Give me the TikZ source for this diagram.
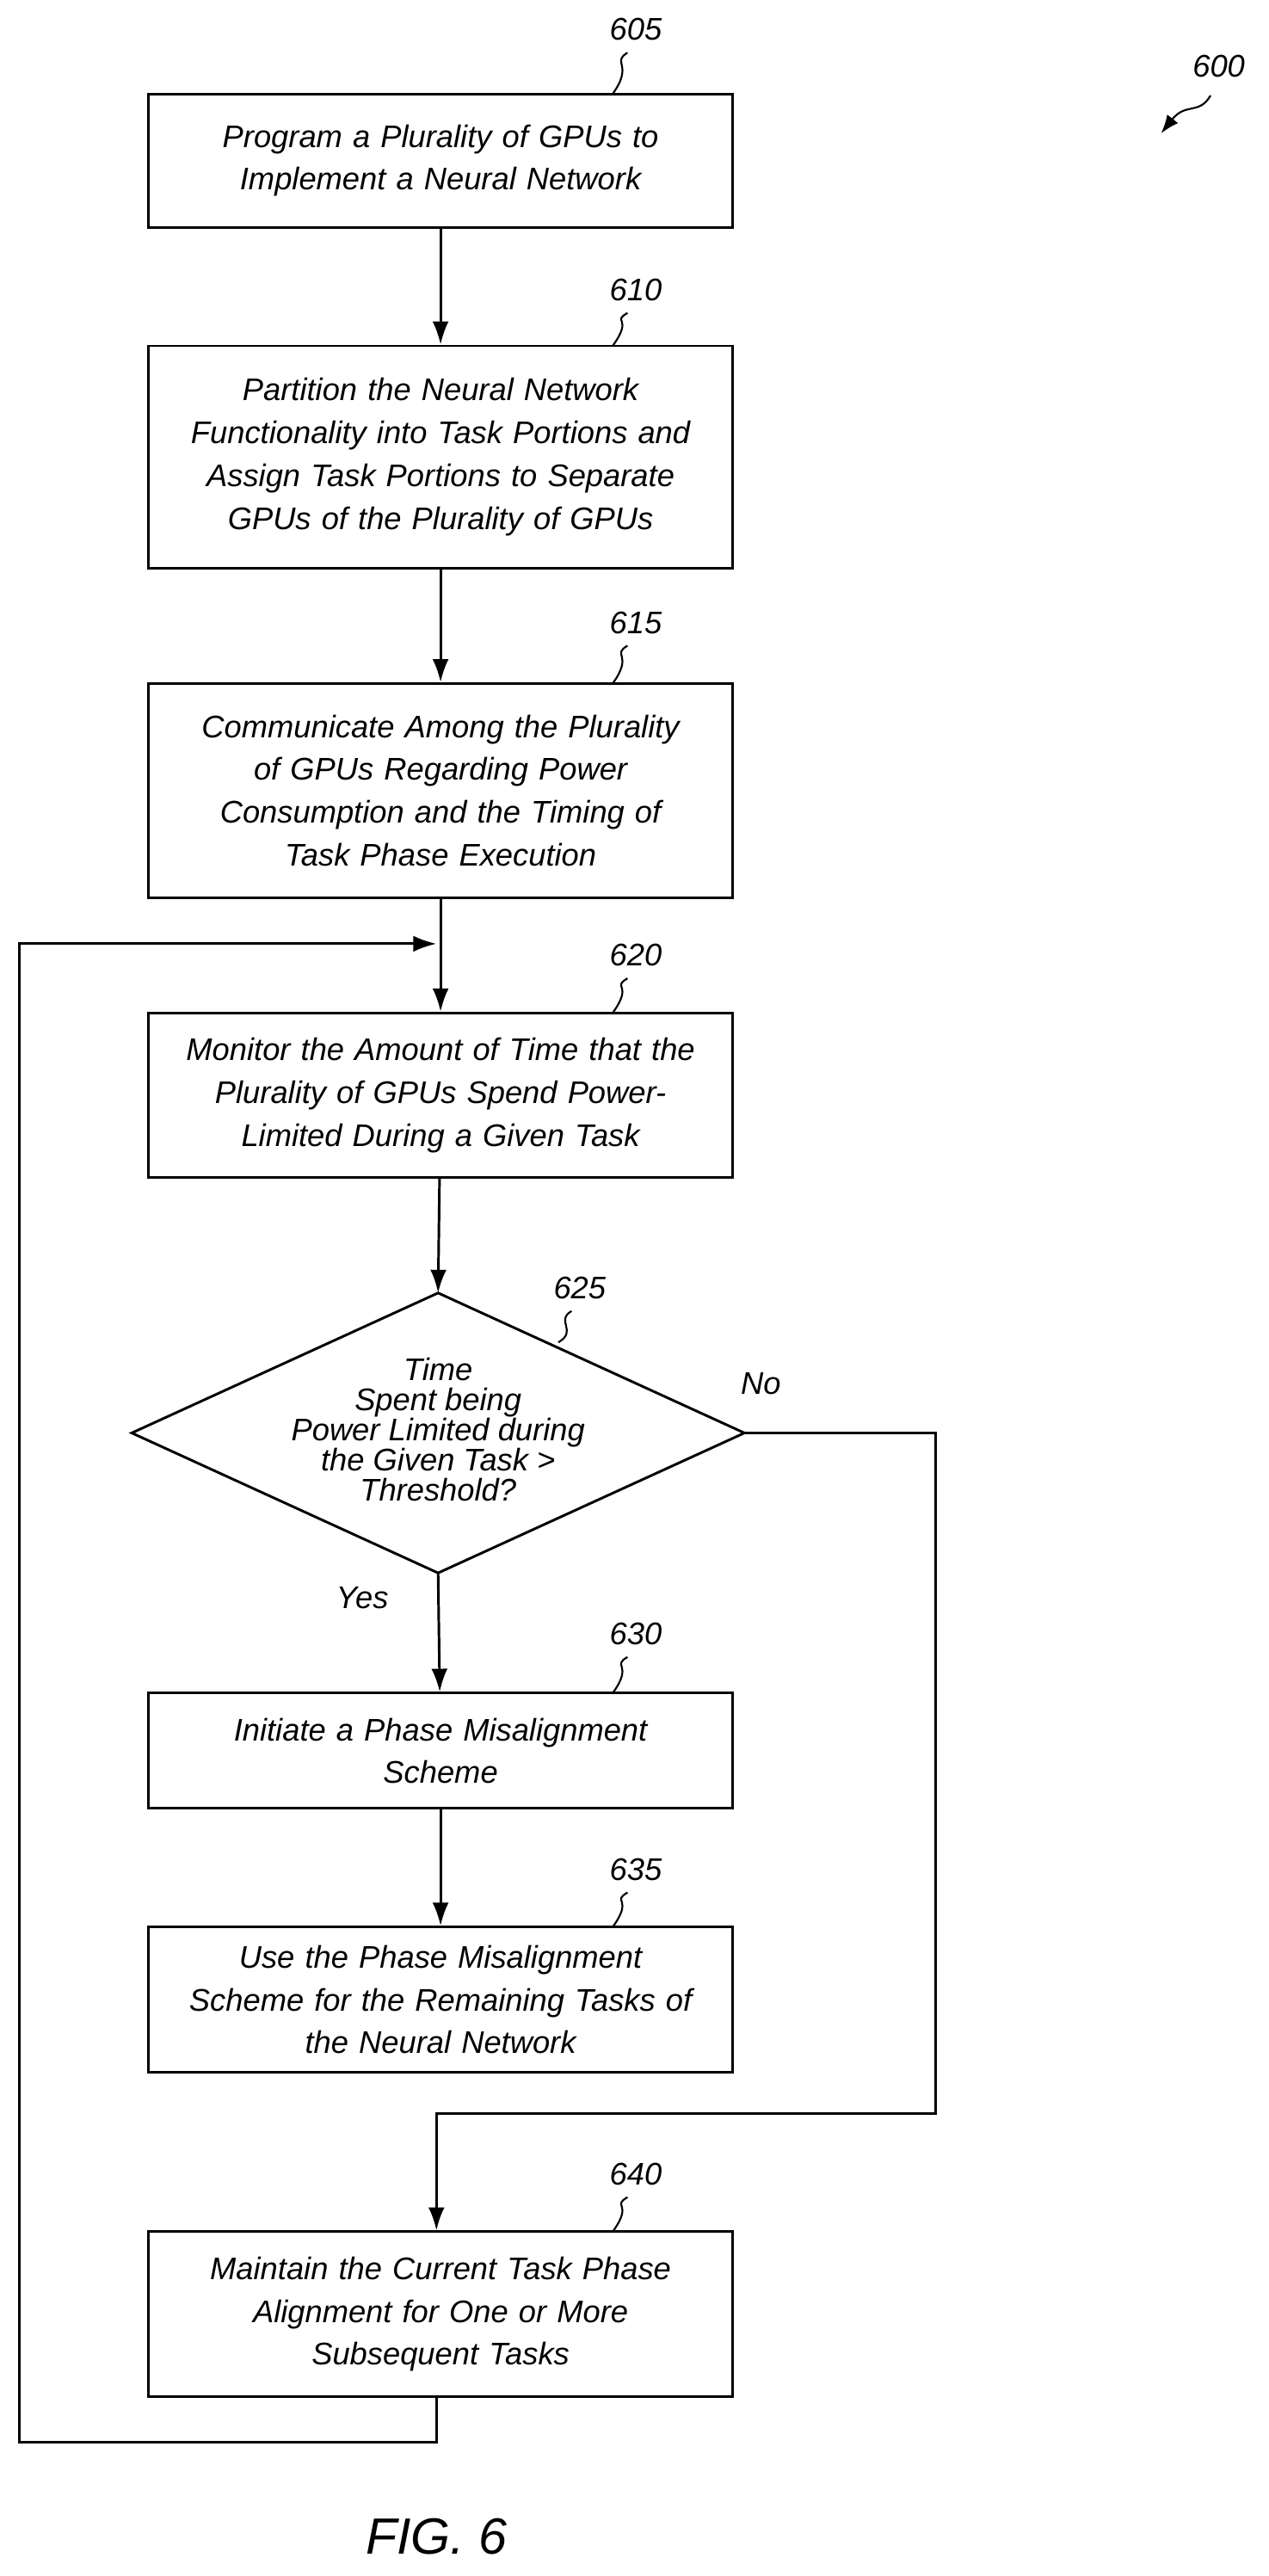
\documentclass[tikz,border=0pt]{standalone}
\usepackage{fontspec}
\setmainfont{Liberation Sans}
\usetikzlibrary{arrows.meta}
\tikzset{
  stepbox/.style={draw, line width=2.2pt, minimum width=17.75cm, text width=16.2cm, align=center, inner sep=0pt, font=\itshape\fontsize{27}{37}\selectfont},
  ref/.style={font=\itshape\fontsize{27}{32}\selectfont},
  squig/.style={line width=1.6pt},
  flow/.style={line width=2.2pt, -{Latex[length=20pt,width=14pt]}}
}
\begin{document}
\begin{tikzpicture}[x=0.05cm,y=-0.05cm]
  \useasboundingbox (0,0) rectangle (770,1564);

  \node [stepbox, minimum height=4.05cm] (b605) at (267.5,97.5) {Program a Plurality of GPUs to\\Implement a Neural Network};
  \node [stepbox, minimum height=6.75cm] (b610) at (267.5,277.5) {Partition the Neural Network\\Functionality into Task Portions and\\Assign Task Portions to Separate\\GPUs of the Plurality of GPUs};
  \node [stepbox, minimum height=6.5cm] (b615) at (267.5,480) {Communicate Among the Plurality\\of GPUs Regarding Power\\Consumption and the Timing of\\Task Phase Execution};
  \node [stepbox, minimum height=5cm] (b620) at (267.5,665) {Monitor the Amount of Time that the\\Plurality of GPUs Spend Power-\\Limited During a Given Task};
  % decision
  \coordinate (dtop) at (266,785);
  \coordinate (deast) at (452,870);
  \coordinate (dbot) at (266,955);
  \coordinate (dwest) at (80,870);
  \draw [line width=2.2pt, line join=miter] (dtop) -- (deast) -- (dbot) -- (dwest) -- cycle;
  \node [align=center, inner sep=0pt, font=\itshape\fontsize{27}{26}\selectfont] (d625) at (266,868) {Time\\Spent being\\Power Limited during\\the Given Task >\\Threshold?};
  \node [stepbox, minimum height=3.5cm] (b630) at (267.5,1063) {Initiate a Phase Misalignment\\Scheme};
  \node [stepbox, minimum height=4.4cm] (b635) at (267.5,1214) {Use the Phase Misalignment\\Scheme for the Remaining Tasks of\\the Neural Network};
  \node [stepbox, minimum height=5cm] (b640) at (267.5,1405) {Maintain the Current Task Phase\\Alignment for One or More\\Subsequent Tasks};

  % reference numerals
  \foreach \n/\y/\t in {605/18/57, 610/176/210, 615/378/415, 620/580/615, 630/992/1028, 635/1135/1170, 640/1320/1355}{
    \node [ref] (r\n) at (386,\y) {\n};
    \draw [squig] (381,\y+14) .. controls (371,\y+20) and (385,\t-18) .. (372,\t);
  }
  \node [ref] (r625) at (352,782) {625};
  \draw [squig] (347,796) .. controls (337,802) and (351,808) .. (339,815);
  \node [ref] (r600) at (740,40) {600};
  \coordinate (a600) at (705,81);
  \draw [line width=1.6pt, -{Latex[length=16pt,width=12pt]}] (735,58) .. controls (728,70) and (720,62) .. (a600);

  \node [ref] (tno) at (462,840) {No};
  \node [ref] (tyes) at (220,970) {Yes};

  % flow
  \draw [flow] (b605) -- (b610);
  \draw [flow] (b610) -- (b615);
  \draw [flow] (b615) -- (b620);
  \draw [flow] (b620) -- (dtop);
  \draw [flow] (dbot) -- (b630);
  \draw [flow] (b630) -- (b635);
  \coordinate (nojoin) at (265,1283);
  \draw [flow] (deast) -- (568,870) -- (568,1283) -- (nojoin) -- (b640.north -| nojoin);
  \coordinate (loopin) at (265,573);
  \draw [flow] (b640.south -| loopin) -- (265,1483) -- (12,1483) -- (12,573) -- (loopin);

  \node [font=\itshape\fontsize{44}{50}\selectfont] (fig) at (265,1540) {FIG. 6};
\end{tikzpicture}
\end{document}
